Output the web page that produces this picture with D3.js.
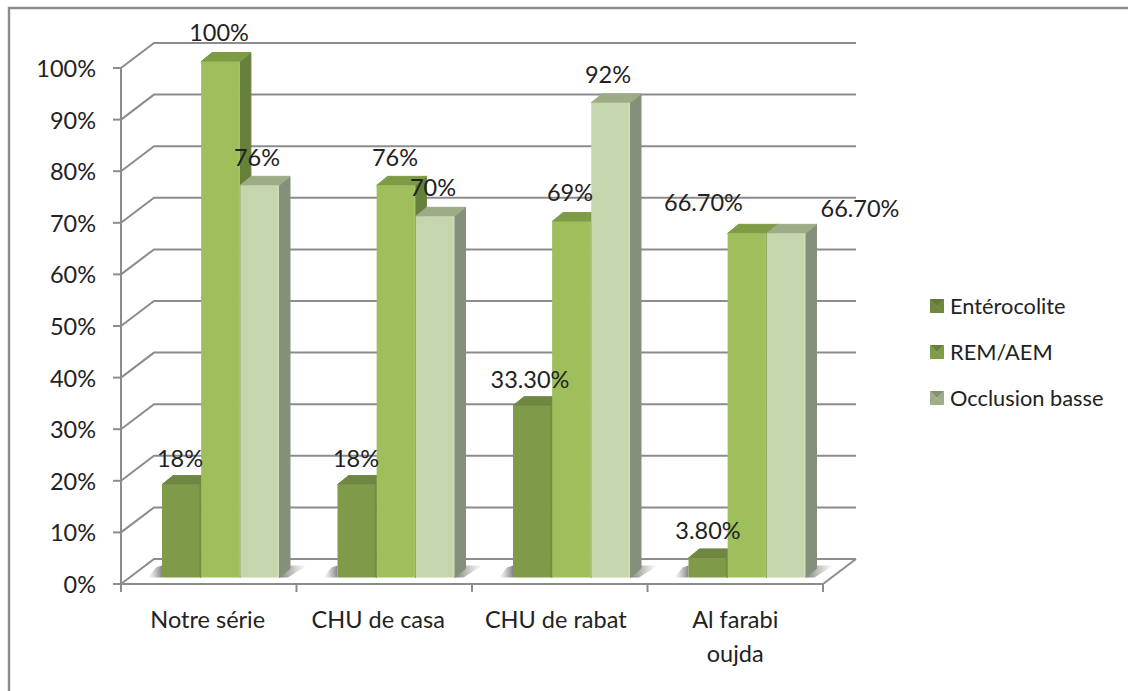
<!doctype html>
<html lang="fr">
<head>
<meta charset="utf-8">
<title>Chart</title>
<style>
  html, body { margin: 0; padding: 0; background: #fff; }
  svg { display: block; }
  text { font-family: Lato, "Open Sans", sans-serif; fill: #222; }
</style>
<script src="https://cdnjs.cloudflare.com/ajax/libs/d3/7.8.5/d3.min.js"></script>
</head>
<body>
<script>
const categories = ['Notre série', 'CHU de casa', 'CHU de rabat', 'Al farabi oujda'];
const seriesNames = ['Entérocolite', 'REM/AEM', 'Occlusion basse'];
const enterocolite = [18, 18, 33.3, 3.8];
const remAem = [100, 76, 69, 66.7];
const occlusion = [76, 70, 92, 66.7];
const labelsText = [
  ['18%', '18%', '33.30%', '3.80%'],
  ['100%', '76%', '69%', '66.70%'],
  ['76%', '70%', '92%', '66.70%']
];
const ticks = d3.range(0, 101, 10);

const width = 1128, height = 691;
const series = [enterocolite, remAem, occlusion];
const colors = [
  { front: '#7f9a48', edge: '#6f8740', side: '#64793a', top: '#6f8740', light: '#8aa651' },
  { front: '#9fbe5c', edge: '#a9c96a', side: '#67803b', top: '#7e9c45', light: '#a6c566' },
  { front: '#c6d6ac', edge: '#d4e0bf', side: '#84907a', top: '#9dac87', light: '#cedbb6' }
];

const depth = { x: 33, y: -25 };
const barDepth = { x: 11, y: -9 };

const x = d3.scaleBand().domain(categories).range([121, 823]);
const y = d3.scaleLinear().domain([0, 100]).range([584, 68]);
const inner = d3.scaleBand().domain([0, 1, 2]).range([41, 158]).paddingInner(0.01);
const barBase = 577.5 - 584;

const svg = d3.select('body').append('svg')
    .attr('width', width)
    .attr('height', height);

// outer frame, only top and left are inside the picture
svg.append('path').attr('d', `M9,${height}V8H${width}`)
    .attr('fill', 'none').attr('stroke', '#8c8c8c').attr('stroke-width', 2.4);

const grid = '#8c8c8c';
const axisG = svg.append('g').attr('fill', 'none').attr('stroke', grid).attr('stroke-width', 2);

// floor
axisG.append('path')
    .attr('d', `M${x.range()[0]},${y(0)}L${x.range()[1]},${y(0)}L${x.range()[1] + depth.x},${y(0) + depth.y}`)
    .attr('stroke-linejoin', 'round');

// back wall gridlines with the slanted piece on the left wall
ticks.forEach(t => {
  axisG.append('path')
      .attr('d', `M${x.range()[0]},${y(t)}L${x.range()[0] + depth.x},${y(t) + depth.y}L${x.range()[1] + depth.x},${y(t) + depth.y}`);
  axisG.append('line')
      .attr('x1', x.range()[0] - 8).attr('x2', x.range()[0])
      .attr('y1', y(t)).attr('y2', y(t));
});

// the y axis and the x ticks
axisG.append('line')
    .attr('x1', x.range()[0]).attr('x2', x.range()[0])
    .attr('y1', y(100)).attr('y2', y(0) + 8);
x.domain().concat(['end']).forEach((c, i) => {
  const px = x.range()[0] + i * x.bandwidth();
  axisG.append('line').attr('x1', px).attr('x2', px)
      .attr('y1', y(0)).attr('y2', y(0) + 8);
});

// y tick labels
svg.append('g').selectAll('text').data(ticks).join('text')
    .attr('x', 96).attr('y', d => y(d) + 0.5)
    .attr('dy', '0.36em')
    .attr('text-anchor', 'end')
    .attr('font-size', 23.5)
    .text(d => d + '%');

// category labels, nudged a little: the source spacing is not quite even
const catLines = c => c === 'Al farabi oujda' ? ['Al farabi', 'oujda'] : [c];
const catNudge = [-1, -6, -4, 0];
svg.append('g').selectAll('text').data(categories).join('text')
    .attr('text-anchor', 'middle')
    .attr('font-size', 23.5)
    .attr('y', 628)
    .each(function (d, i) {
      d3.select(this).selectAll('tspan').data(catLines(d)).join('tspan')
          .attr('x', x(d) + x.bandwidth() / 2 + catNudge[i])
          .attr('dy', (_, j) => j ? 34 : 0)
          .text(t => t);
    });

const defs = svg.append('defs');
colors.forEach((c, i) => {
  const g = defs.append('linearGradient').attr('id', `front${i}`);
  g.append('stop').attr('offset', '0%').attr('stop-color', c.front);
  g.append('stop').attr('offset', '94%').attr('stop-color', c.front);
  g.append('stop').attr('offset', '100%').attr('stop-color', c.edge);
});
const sh = defs.append('linearGradient').attr('id', 'shadow');
sh.append('stop').attr('offset', '0%').attr('stop-color', '#777').attr('stop-opacity', 0.95);
sh.append('stop').attr('offset', '100%').attr('stop-color', '#999').attr('stop-opacity', 0);
const shL = defs.append('linearGradient').attr('id', 'shadowLeft');
shL.append('stop').attr('offset', '0%').attr('stop-color', '#999').attr('stop-opacity', 0);
shL.append('stop').attr('offset', '100%').attr('stop-color', '#777').attr('stop-opacity', 0.9);

// bars, left to right so each side face sits under its neighbour
categories.forEach((c, ci) => {
  const g = svg.append('g');
  const base = y(0) + barBase;
  const first = x(c) + inner(0), last = x(c) + inner(2) + inner.bandwidth();

  // floor shadow either side of the group
  g.append('path')
      .attr('d', `M${last},${base}L${last + 11},${base - 12}L${last + 28},${base - 12}L${last + 9},${base}Z`)
      .attr('fill', 'url(#shadow)');
  g.append('path')
      .attr('d', `M${first},${base}L${first},${base - 12}L${first - 6},${base - 10}L${first - 14},${base}Z`)
      .attr('fill', 'url(#shadowLeft)');

  series.forEach((vals, si) => {
    const v = vals[ci], c0 = colors[si];
    const bx = x(c) + inner(si), bw = inner.bandwidth();
    const top = y(v) + barBase;
    g.append('path')
        .attr('d', `M${bx + bw},${top}l${barDepth.x},${barDepth.y}L${bx + bw + barDepth.x},${base + barDepth.y}L${bx + bw},${base}Z`)
        .attr('fill', c0.side).attr('stroke', c0.side).attr('stroke-linejoin', 'round');
    g.append('path')
        .attr('d', `M${bx},${top}l${barDepth.x},${barDepth.y}h${bw}l${-barDepth.x},${-barDepth.y}Z`)
        .attr('fill', c0.top).attr('stroke', c0.top).attr('stroke-linejoin', 'round');
    g.append('rect')
        .attr('x', bx).attr('y', top).attr('width', bw).attr('height', base - top)
        .attr('rx', 1)
        .attr('fill', `url(#front${si})`);
  });
});

// data labels: offsets are picked per label, they were moved by hand in the source
const labelAt = [
  [[180, 459], [356, 459], [530, 380], [708, 531]],
  [[219, 33], [395, 158], [570, 193], [703.5, 203]],
  [[257, 158], [433, 188], [608, 75], [860, 209]]
];
labelsText.forEach((row, si) => {
  svg.append('g').selectAll('text').data(row).join('text')
      .attr('x', (_, i) => labelAt[si][i][0])
      .attr('y', (_, i) => labelAt[si][i][1])
      .attr('dy', '0.36em')
      .attr('text-anchor', 'middle')
      .attr('font-size', 23.5)
      .text(d => d);
});

// legend
const legendY = d3.scalePoint().domain(seriesNames).range([306, 398]);
const legend = svg.append('g').selectAll('g').data(seriesNames).join('g')
    .attr('transform', d => `translate(937,${legendY(d)})`);
legend.each(function (d, i) {
  const g = d3.select(this), c0 = colors[i], s = 7;
  g.append('rect').attr('x', -s).attr('y', -s).attr('width', 2 * s).attr('height', 2 * s).attr('fill', c0.light);
  g.append('path').attr('d', `M${-s},${-s}L${s},${-s}L0,0Z`).attr('fill', c0.side);
  g.append('path').attr('d', `M${-s},${s}L${s},${s}L0,0Z`).attr('fill', c0.top);
  g.append('path').attr('d', `M${-s},${-s}L${-s},${s}L0,0Z`).attr('fill', c0.top);
  g.append('path').attr('d', `M${s},${-s}L${s},${s}L0,0Z`).attr('fill', c0.top);
});
legend.append('text')
    .attr('x', 13).attr('dy', '0.36em')
    .attr('font-size', 21.8)
    .text(d => d);
</script>
</body>
</html>
